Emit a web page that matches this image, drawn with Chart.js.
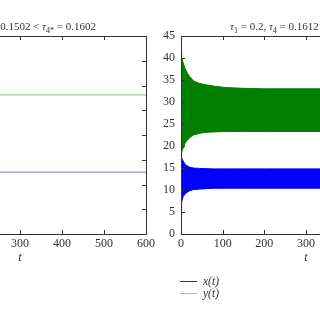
<!DOCTYPE html>
<html>
<head>
<meta charset="utf-8">
<script src="https://cdn.jsdelivr.net/npm/chart.js@4.4.0/dist/chart.umd.min.js"></script>
<style>
  html, body { margin:0; padding:0; background:#fff; overflow:hidden; }
  #wrap { position:relative; width:320px; height:320px; overflow:hidden; background:#fff; }
  canvas { position:absolute; top:0; }
  .ttl { position:absolute; font-family:"Liberation Serif", "DejaVu Serif", serif; font-size:11px; color:#333; white-space:nowrap; line-height:12px; }
  .ttl i { font-style:italic; }
  .ttl sub { font-size:8px; vertical-align:-3px; line-height:0; }
  .leg { position:absolute; left:180px; font-family:"Liberation Serif", serif; font-size:11.5px; font-style:italic; color:#333; height:12px; line-height:12px; white-space:nowrap; }
  .leg span.ln { display:inline-block; width:17px; height:1px; vertical-align:middle; margin-right:6px; position:relative; top:-1px; }
</style>
</head>
<body>
<div id="wrap">
  <canvas id="left" width="320" height="320" style="left:-150px"></canvas>
  <canvas id="right" width="300" height="320" style="left:150px"></canvas>
  <div class="ttl" style="right:224px; top:20px;">0.1502 &lt; <i>τ</i><sub>4*</sub> = 0.1602</div>
  <div class="ttl" style="left:230px; top:20px;"><i>τ</i><sub>1</sub> = 0.2, <i>τ</i><sub>4</sub> = 0.1612</div>
  <div class="leg" style="top:275px;"><span class="ln" style="background:#2c2c8c"></span>x(t)</div>
  <div class="leg" style="top:287px;"><span class="ln" style="background:#9cc79c"></span>y(t)</div>
</div>
<script>
// ---- data ----
// left panel (converged equilibrium, visible portion)
const leftT = [0, 600];
const leftX = [12.5, 12.5];
const leftY = [28.1, 28.1];

// right panel: envelopes of the fast oscillation
const rightT  = [0,   0.8,  2,    5,    10,   15,   20,   30,   45,   60,   80,   105,  150,  200,  300,  400,  500,  600];
const yUpper  = [41.5, 41.0, 40.2, 39.0, 37.6, 36.6, 35.9, 34.8, 34.2, 33.9, 33.6, 33.3, 33.1, 33.0, 33.0, 33.0, 33.0, 33.0];
const yLower  = [18.0, 18.2, 18.6, 19.5, 20.6, 21.3, 21.8, 22.5, 22.9, 23.1, 23.2, 23.3, 23.3, 23.3, 23.3, 23.3, 23.3, 23.3];
const xUpper  = [17.6, 17.5, 17.3, 16.6, 15.8, 15.5, 15.2, 15.0, 14.9, 14.85,14.8, 14.8, 14.8, 14.8, 14.8, 14.8, 14.8, 14.8];
const xLower  = [4.0,  6.5,  7.3,  8.5,  9.1,  9.5,  9.8,  10.1, 10.2, 10.3, 10.4, 10.4, 10.4, 10.4, 10.4, 10.4, 10.4, 10.4];

const xTicks = [0, 100, 200, 300, 400, 500, 600];
const leftYTicks = [0, 5, 10, 15, 20, 25, 30, 35, 40];
const rightYTicks = [0, 5, 10, 15, 20, 25, 30, 35, 40, 45];

const pts = (t, v) => t.map((tt, i) => ({x: tt, y: v[i]}));

const frame = {
  id: 'frame',
  afterDraw(chart) {
    const {ctx, chartArea: a, scales: {x, y}} = chart;
    ctx.save();
    ctx.strokeStyle = '#333';
    ctx.lineWidth = 1;
    ctx.beginPath();
    const L = 4;
    x.ticks.forEach(t => {
      const px = Math.round(x.getPixelForValue(t.value)) + 0.5;
      ctx.moveTo(px, a.bottom); ctx.lineTo(px, a.bottom - L);
      ctx.moveTo(px, a.top); ctx.lineTo(px, a.top + L);
    });
    y.ticks.forEach(t => {
      const py = Math.round(y.getPixelForValue(t.value)) + 0.5;
      ctx.moveTo(a.left, py); ctx.lineTo(a.left + L, py);
      ctx.moveTo(a.right, py); ctx.lineTo(a.right - L, py);
    });
    ctx.stroke();
    ctx.strokeRect(Math.round(a.left) + 0.5, Math.round(a.top) + 0.5, Math.round(a.right - a.left), Math.round(a.bottom - a.top));
    ctx.restore();
  }
};

function scalesCfg(yMax, yTicks, yWidth) {
  const tickFont = {family: '"Liberation Serif", serif', size: 12};
  return {
    x: {
      type: 'linear', min: 0, max: 600,
      afterBuildTicks: s => { s.ticks = xTicks.map(v => ({value: v})); },
      afterFit: s => { s.height = 31; s.paddingLeft = 0; s.paddingRight = 0; },
      grid: {display: false, drawTicks: false},
      border: {display: false},
      ticks: {font: tickFont, color: '#333', padding: 3, maxRotation: 0, autoSkip: false},
      title: {display: true, text: 't', font: {family: '"Liberation Serif", serif', size: 12, style: 'italic'}, color: '#333', padding: {top: 0, bottom: 0}}
    },
    y: {
      type: 'linear', min: 0, max: yMax,
      afterBuildTicks: s => { s.ticks = yTicks.map(v => ({value: v})); },
      afterFit: s => { s.width = yWidth; s.paddingTop = 0; s.paddingBottom = 0; },
      grid: {display: false, drawTicks: false},
      border: {display: false},
      ticks: {font: tickFont, color: '#333', padding: 6, autoSkip: false}
    }
  };
}

const common = {
  responsive: false,
  animation: false,
  events: [],
  plugins: {legend: {display: false}, tooltip: {enabled: false}, title: {display: false}},
  elements: {point: {radius: 0}, line: {tension: 0}}
};

new Chart(document.getElementById('left'), {
  type: 'line',
  data: {
    datasets: [
      {label: 'x(t)', data: pts(leftT, leftX), borderColor: '#7272d8', borderWidth: 1, fill: false},
      {label: 'y(t)', data: pts(leftT, leftY), borderColor: '#86bd86', borderWidth: 1, fill: false}
    ]
  },
  options: Object.assign({}, common, {
    layout: {padding: {top: 36, right: 24, bottom: 55, left: 0}},
    scales: scalesCfg(40, leftYTicks, 44)
  }),
  plugins: [frame]
});

new Chart(document.getElementById('right'), {
  type: 'line',
  data: {
    datasets: [
      {label: 'y upper', data: pts(rightT, yUpper), borderColor: '#008000', backgroundColor: '#008000', borderWidth: 1, fill: '+1'},
      {label: 'y lower', data: pts(rightT, yLower), borderColor: '#008000', borderWidth: 1, fill: false},
      {label: 'x upper', data: pts(rightT, xUpper), borderColor: '#0000ff', backgroundColor: '#0000ff', borderWidth: 1, fill: '+1'},
      {label: 'x lower', data: pts(rightT, xLower), borderColor: '#0000ff', borderWidth: 1, fill: false}
    ]
  },
  options: Object.assign({}, common, {
    layout: {padding: {top: 36, right: 19, bottom: 55, left: 0}},
    scales: scalesCfg(45, rightYTicks, 31)
  }),
  plugins: [frame]
});
</script>
</body>
</html>
